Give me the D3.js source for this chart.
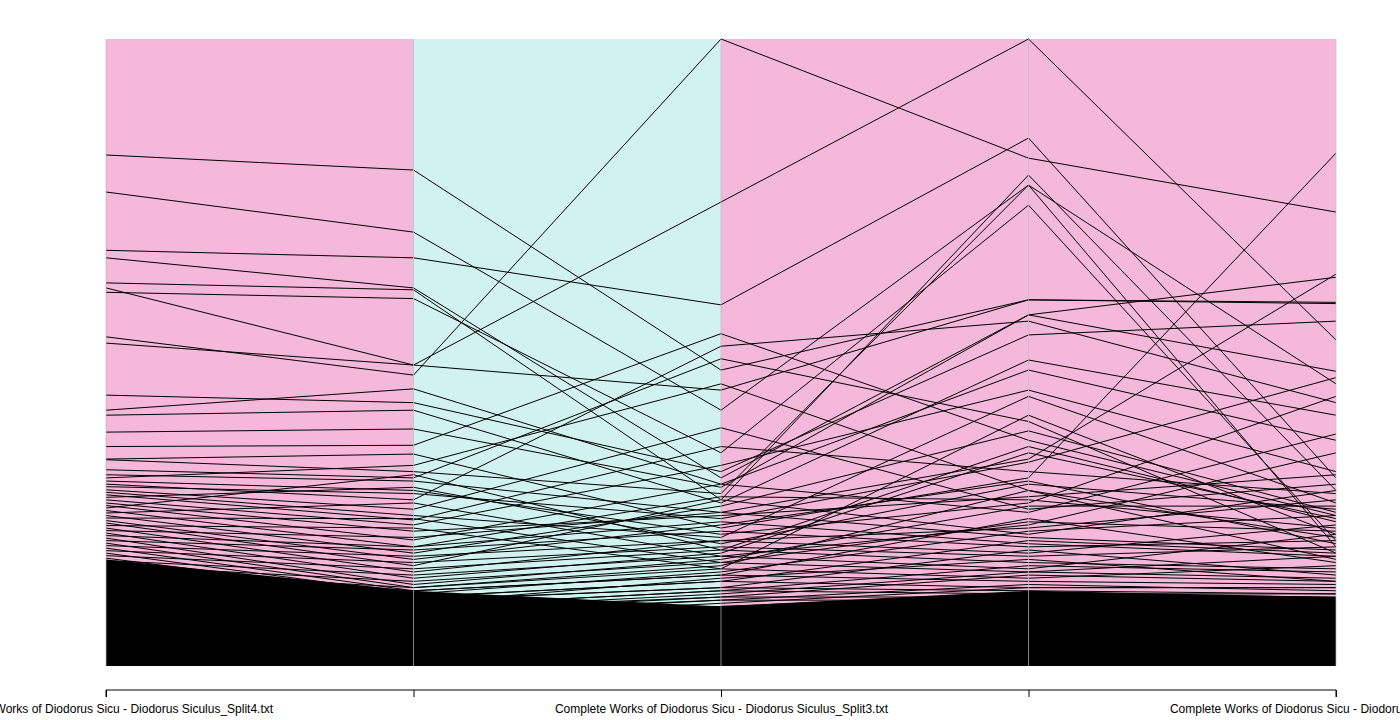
<!DOCTYPE html>
<html><head><meta charset="utf-8">
<script src="https://cdn.jsdelivr.net/npm/d3@7"></script>
<style>body{margin:0;background:#fff}</style></head>
<body>
<script>
var width = 1400, height = 720;
var axes = ["Split4", "Split2", "Split3", "Split1", "Split5"];
var bandColors = ["#f4b8da", "#d2f2f2", "#f4b8da", "#f4b8da"];
var tickLabels = ["Complete Works of Diodorus Sicu - Diodorus Siculus_Split4.txt", "",
  "Complete Works of Diodorus Sicu - Diodorus Siculus_Split3.txt", "",
  "Complete Works of Diodorus Sicu - Diodorus Siculus_Split5.txt"];
// values scaled 0..100 per axis
var upperRows = [
 [81.5,79.1,47.2,58.4,57.8],[75.6,69.2,40.8,76.7,45.0],[60.3,48.0,74.0,100,52.0],
 [52.5,46.4,100,81.0,72.4],[66.3,65.1,57.6,84.2,30.0],[65.1,60.3,30.0,56.0,62.0],
 [61.1,60.0,26.5,78.3,28.0],[59.6,58.6,34.0,73.5,20.0],[51.5,48.0,44.0,58.4,58.0],
 [43.2,42.0,31.0,52.8,55.0],[40.8,44.2,29.0,47.2,36.0],[40.0,40.8,26.0,48.8,40.0],
 [37.3,37.8,28.5,56.0,47.0],[35.0,35.2,53.0,36.0,24.0],[33.0,33.8,22.0,30.0,81.8],
 [32.9,31.0,27.5,76.7,19.0],[31.3,30.0,49.0,39.0,18.0],[30.5,29.5,24.5,33.0,62.5],
 [30.0,32.0,45.0,28.0,20.5],[29.5,28.0,21.0,26.0,43.0],[29.0,26.5,51.0,55.0,42.0],
 [28.6,27.5,23.5,32.5,46.0],[28.1,25.0,38.0,25.0,29.0],[27.7,24.0,20.5,43.0,26.0],
 [27.3,23.3,35.0,31.0,27.5],[26.9,28.5,19.5,29.0,25.0],[26.5,22.5,32.0,44.0,31.0],
 [26.0,21.5,24.0,27.0,30.5],[25.6,20.1,29.0,24.5,37.0],[25.2,30.5,18.5,35.0,23.0],
 [24.8,19.0,27.0,26.5,22.0],[24.4,26.0,17.5,22.5,34.0],[24.0,18.0,25.5,37.5,24.5],
 [23.6,23.5,16.5,23.0,21.5],[23.2,17.0,22.5,29.5,19.5],[22.8,16.0,26.5,21.0,28.0],
 [22.4,22.0,15.5,40.0,21.0],[22.0,15.0,20.0,22.0,26.5],[21.6,20.5,24.5,20.5,18.5],
 [21.2,14.0,18.0,34.0,23.5],[20.8,19.0,23.0,19.5,17.5],[20.4,13.0,17.0,25.5,25.5],
 [20.0,18.5,21.5,19.0,20.0],[19.6,12.5,16.0,28.0,17.0],[19.2,17.5,20.0,18.0,22.5],
 [18.8,12.0,14.5,23.5,16.5],[18.4,16.5,19.0,17.5,19.0],[18.0,11.5,15.0,21.5,24.0],
 [17.6,15.5,18.5,16.5,15.5],[17.2,11.0,13.5,20.0,18.0],[16.8,14.5,17.5,15.5,21.0],
 [16.4,10.5,12.5,18.5,14.5],[16.0,13.5,16.5,15.0,17.5],[15.6,10.0,14.0,17.0,13.5],
 [15.2,12.5,15.5,14.0,16.0],[14.8,9.5,12.0,16.0,15.0],[14.4,12.0,14.5,13.5,13.0],
 [14.0,9.0,11.5,15.0,14.0],[13.6,11.0,13.5,12.5,12.5],[13.2,8.5,11.0,14.5,13.5],
 [12.8,10.5,12.5,12.0,11.5],[12.4,8.0,10.5,13.0,12.0],[12.0,9.5,12.0,11.5,11.0],
 [11.6,7.5,10.0,12.5,12.5],[11.2,9.0,11.0,11.0,10.5],[10.8,7.0,9.5,11.5,11.5],
 [10.4,8.5,10.5,10.5,10.0],[10.0,6.5,9.0,11.0,10.5],[9.6,8.0,9.5,10.0,9.5],
 [9.2,6.0,8.5,10.5,10.0],[8.8,7.5,9.0,9.5,9.0],[8.4,5.5,8.0,9.5,9.5],
 [8.0,7.0,8.5,9.0,8.5],[7.6,5.0,7.5,8.5,9.0],[7.2,6.5,8.0,8.5,8.0],
 [6.8,4.5,7.0,8.0,8.5],[6.4,6.0,7.5,7.5,7.5],[6.0,4.0,6.5,7.5,8.0],
 [5.6,5.5,7.0,7.0,7.0],[5.2,3.5,6.0,6.5,7.5],[4.8,5.0,6.5,6.5,6.5],
 [4.4,3.0,5.5,6.0,7.0],[4.0,4.5,6.0,5.5,6.0],[3.6,2.5,5.0,5.5,6.5],
 [3.2,4.0,5.5,5.0,5.5],[2.8,2.0,4.5,4.5,6.0],[2.4,3.5,5.0,4.5,5.0],
 [2.0,1.5,4.0,4.0,5.5],[1.6,3.0,4.5,3.5,4.5],[1.2,1.0,3.5,3.0,5.0],
 [0.8,2.5,4.0,2.5,4.0],[0.4,0.5,3.0,2.0,4.5]
];
// dense low block: [axis value at each coordinate] read as a filled region
var lowerBlockTop = [17, 12, 9.5, 12, 11];

var x = d3.scalePoint().domain(axes).range([106, 1336]);
var y = d3.scaleLinear().domain([0, 100]).range([666, 39]);
var svg = d3.select("body").append("svg").attr("width", width).attr("height", height);

svg.selectAll("rect.band").data(bandColors).enter().append("rect")
  .attr("x", function(d, i) { return x(axes[i]); }).attr("y", y(100))
  .attr("width", x.step()).attr("height", y(0) - y(100)).attr("fill", function(d) { return d; });

svg.append("path").datum(lowerBlockTop)
  .attr("d", d3.area().x(function(d, i) { return x(axes[i]); }).y0(y(0)).y1(function(d) { return y(d); }))
  .attr("fill", "#000");

var line = d3.line().x(function(d, i) { return x(axes[i]); }).y(function(d) { return y(d); });
svg.selectAll("path.pc").data(upperRows).enter().append("path")
  .attr("d", line).attr("fill", "none").attr("stroke", "#000").attr("stroke-width", 1);

svg.selectAll("line.ax").data(axes).enter().append("line")
  .attr("x1", function(d) { return x(d); }).attr("x2", function(d) { return x(d); })
  .attr("y1", y(0)).attr("y2", y(100)).attr("stroke", "#bbb").attr("stroke-width", 0.7);

var axis = d3.axisBottom(x).tickSize(7).tickFormat(function(d, i) { return tickLabels[i]; });
var g = svg.append("g").attr("transform", "translate(0,690)").call(axis);
g.select(".domain").attr("d", "M106,7V0H1336V7");
g.selectAll("text").attr("font-family", "Arial, Liberation Sans, sans-serif").attr("font-size", 12).attr("dy", "1.1em").attr("fill", "#000");
</script>
</body></html>
